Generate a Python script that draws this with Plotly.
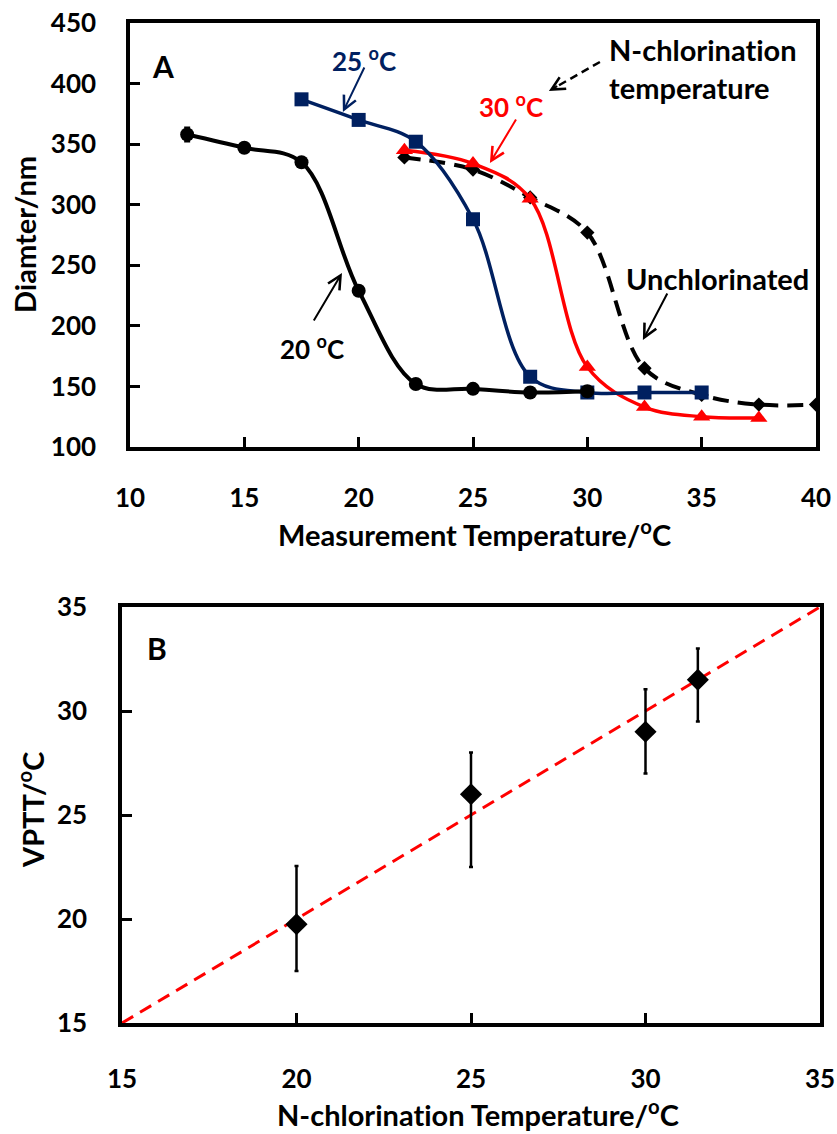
import plotly.graph_objects as go

# ---------------- Panel A data ----------------
t20_x = [12.5, 15, 17.5, 20, 22.5, 25, 27.5, 30]
t20_y = [358, 347, 335, 229, 152, 148, 145, 146]
t20_err = [6, 0, 0, 0, 0, 0, 0, 0]

t25_x = [17.5, 20, 22.5, 25, 27.5, 30, 32.5, 35]
t25_y = [387, 370, 352, 288, 158, 145, 145, 145]

t30_x = [22, 25, 27.5, 30, 32.5, 35, 37.5]
t30_y = [345, 334, 305, 166, 133, 125, 124]

unc_x = [22, 25, 27.5, 30, 32.5, 35, 37.5, 40]
unc_y = [339, 329, 306, 277, 165, 143, 135, 135]

# ---------------- Panel B data ----------------
nch_x = [20, 25, 30, 31.5]
vptt_y = [19.75, 26.0, 29.0, 31.5]
vptt_err_plus = [2.8, 2.0, 2.05, 1.5]
vptt_err_minus = [2.25, 3.5, 2.0, 2.0]
ref_line_x = [15, 35]
ref_line_y = [15, 35]

xA_ticks = [10, 15, 20, 25, 30, 35, 40]
yA_ticks = [100, 150, 200, 250, 300, 350, 400, 450]
xB_ticks = [15, 20, 25, 30, 35]
yB_ticks = [15, 20, 25, 30, 35]

NAVY = "#002060"
RED = "#FF0000"
FONT = "Lato"
W, H = 837, 1134
ZWNJ = "\u200c"  # avoid the "ti" ligature

fig = go.Figure()

fig.add_trace(go.Scatter(x=unc_x, y=unc_y, mode="lines+markers",
                         line=dict(color="black", width=4, dash="16px,9px", shape="spline", smoothing=1),
                         marker=dict(symbol="diamond", size=11, color="black"),
                         xaxis="x", yaxis="y", showlegend=False))
fig.add_trace(go.Scatter(x=t30_x, y=t30_y, mode="lines+markers",
                         line=dict(color=RED, width=3.5, shape="spline", smoothing=1),
                         marker=dict(symbol="triangle-up", size=15, color=RED),
                         xaxis="x", yaxis="y", showlegend=False))
fig.add_trace(go.Scatter(x=t25_x, y=t25_y, mode="lines+markers",
                         line=dict(color=NAVY, width=3.5, shape="spline", smoothing=1),
                         marker=dict(symbol="square", size=14, color=NAVY),
                         xaxis="x", yaxis="y", showlegend=False))
fig.add_trace(go.Scatter(x=t20_x, y=t20_y, mode="lines+markers",
                         line=dict(color="black", width=4, shape="spline", smoothing=1),
                         marker=dict(symbol="circle", size=14, color="black"),
                         error_y=dict(type="data", array=t20_err, color="black", thickness=1.5, width=3),
                         xaxis="x", yaxis="y", showlegend=False))

fig.add_trace(go.Scatter(x=ref_line_x, y=ref_line_y, mode="lines",
                         line=dict(color=RED, width=3, dash="13px,8px"),
                         xaxis="x2", yaxis="y2", showlegend=False))
fig.add_trace(go.Scatter(x=nch_x, y=vptt_y, mode="markers",
                         marker=dict(symbol="diamond", size=17, color="black"),
                         error_y=dict(type="data", symmetric=False, array=vptt_err_plus,
                                      arrayminus=vptt_err_minus, color="black", thickness=2.5, width=2),
                         xaxis="x2", yaxis="y2", showlegend=False))

axis_common = dict(showline=True, linecolor="black", linewidth=3.5, mirror=True,
                   ticks="inside", ticklen=10, tickwidth=2.5, tickcolor="black",
                   showgrid=False, zeroline=False, automargin=False,
                   tickfont=dict(family=FONT, size=26, color="black", weight="bold"))

fig.update_layout(
    width=W, height=H,
    margin=dict(l=0, r=0, t=0, b=0),
    paper_bgcolor="white", plot_bgcolor="white",
    xaxis=dict(domain=[130 / W, 816 / W], range=[10, 40], tickvals=xA_ticks,
               anchor="y", ticklabelstandoff=25, **axis_common),
    yaxis=dict(domain=[1 - 447 / H, 1 - 23 / H], range=[100, 450], tickvals=yA_ticks,
               anchor="x", ticklabelstandoff=25, **axis_common),
    xaxis2=dict(domain=[122 / W, 820 / W], range=[15, 35], tickvals=xB_ticks,
                anchor="y2", ticklabelstandoff=30, **axis_common),
    yaxis2=dict(domain=[1 - 1023 / H, 1 - 607 / H], range=[15, 35], tickvals=yB_ticks,
                anchor="x2", ticklabelstandoff=26, **axis_common),
)

def bold(size, color="black"):
    return dict(family=FONT, size=size, color=color, weight="bold")

def label(text, x, y, size, color="black", ref="data", **kw):
    d = dict(text=text, x=x, y=y, showarrow=False, font=bold(size, color),
             xanchor="center", yanchor="middle")
    if ref == "data":
        d.update(xref="x", yref="y")
    else:
        d.update(xref="paper", yref="paper")
    d.update(kw)
    return d

ann = []
# Panel A labels
ann.append(label("A", 11.44, 414.5, 30))
ann.append(label("25 <sup>o</sup>C", 20.23, 419.5, 26, NAVY))
ann.append(label("30 <sup>o</sup>C", 26.66, 381.5, 26, RED))
ann.append(label(f"N-chlorinat{ZWNJ}ion<br>temperature", 30.86, 412.4, 29, xanchor="left", align="left"))
ann.append(label("Unchlorinated", 35.71, 239.5, 29))
ann.append(label("20 <sup>o</sup>C", 17.96, 182.5, 26))

# arrows (head x,y ; tail ax,ay in data units)
def arrow(hx, hy, tx, ty, color):
    return dict(text="", x=hx, y=hy, ax=tx, ay=ty, xref="x", yref="y", axref="x", ayref="y",
                showarrow=True, arrowhead=5, arrowsize=1.3, arrowwidth=2, arrowcolor=color)

ann.append(arrow(19.31, 376.5, 20.28, 414.5, NAVY))
ann.append(arrow(25.74, 334.4, 26.92, 371.6, RED))
ann.append(arrow(32.43, 188.3, 33.53, 227.9, "black"))
ann.append(arrow(19.27, 243.6, 18.0, 203.2, "black"))
ann.append(arrow(28.32, 393.9, 28.75, 398.5, "black"))

# Axis titles
ann.append(label("Diamter/nm", 24 / W, 1 - 235 / H, 29, ref="paper", textangle=-90))
ann.append(label("Measurement Temperature/<sup>o</sup>C", 474 / W, 1 - 533 / H, 29, ref="paper"))
# Panel B labels
ann.append(label("B", 157 / W, 1 - 648 / H, 30, ref="paper"))
ann.append(label("VPTT/<sup>o</sup>C", 31 / W, 1 - 810 / H, 29, ref="paper", textangle=-90))
ann.append(label(f"N-chlorinat{ZWNJ}ion Temperature/<sup>o</sup>C", 478 / W, 1 - 1113 / H, 29, ref="paper"))

fig.update_layout(annotations=ann)

# dashed shaft of the "N-chlorination temperature" arrow
fig.add_shape(type="line", x0=30.55, y0=417.8, x1=28.75, y1=398.5, xref="x", yref="y",
              line=dict(color="black", width=2.5, dash="8px,5px"))

fig.write_html("out.html")
